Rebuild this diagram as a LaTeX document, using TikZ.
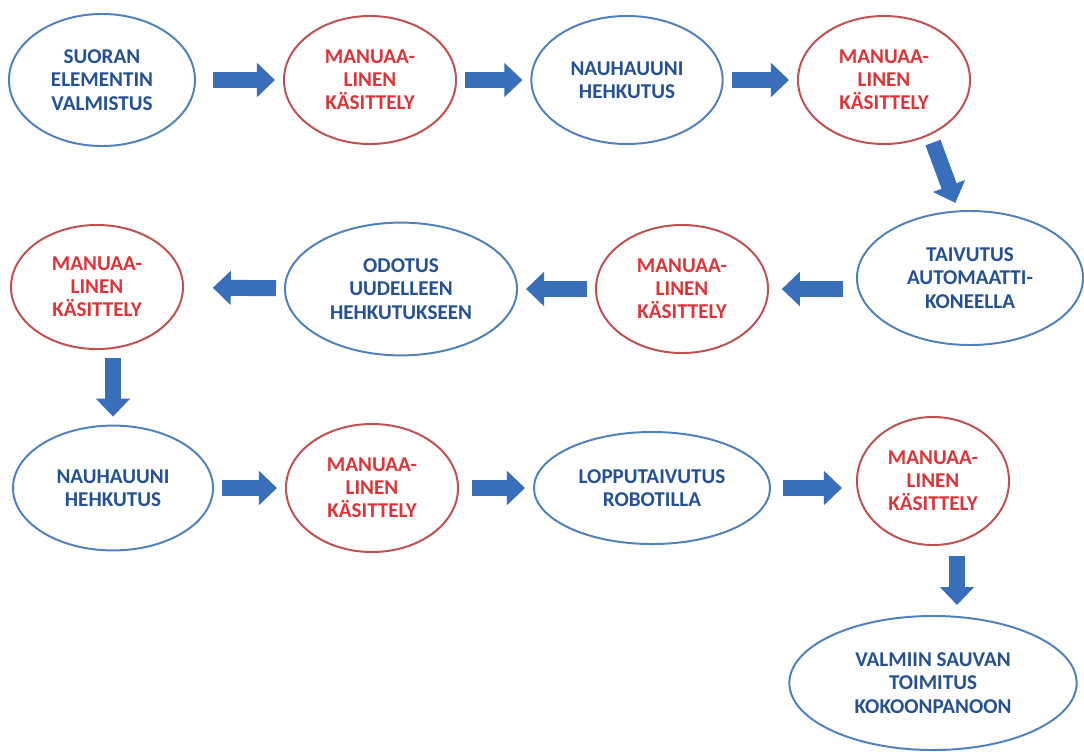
\documentclass[tikz,border=0pt]{standalone}
\usepackage{fontspec}
\setmainfont{Carlito}
\usetikzlibrary{shapes.geometric,
                    arrows.meta}
\definecolor{reunasininen}{RGB}{79,129,189}
\definecolor{reunapunainen}{RGB}{192,80,77}
\definecolor{tekstisininen}{RGB}{36,80,148}
\definecolor{tekstipunainen}{RGB}{222,52,56}
\definecolor{nuolisininen}{RGB}{56,110,186}
\tikzset{
vaihe/.style = {ellipse, draw=reunasininen, line width=1.4pt, text=tekstisininen,
    font=\bfseries\fontsize{15}{16.5}\selectfont, align=center, inner sep=0pt}
                }
\tikzset{
kasittely/.style = {vaihe, draw=reunapunainen, text=tekstipunainen,
    minimum width=4.3cm, minimum height=3.2cm}
         }
\tikzset{
nuoli/.style = {draw=nuolisininen, line width=0.4cm, -{Triangle[length=0.45cm,width=0.83cm]},
    shorten <=0.2cm, shorten >=0.2cm}
         }

\begin{document}
\begin{tikzpicture}[x=0.025cm,y=-0.025cm]
        \path[use as bounding box, fill=white] (0,0) rectangle (1084,751);

        % ensimmainen rivi
        \node[vaihe, minimum width=4.65cm, minimum height=3.3cm] (suora) at (102,80) {SUORAN\\ELEMENTIN\\VALMISTUS};
        \node[kasittely] (kas1) at (370,80) {MANUAA-\\LINEN\\KÄSITTELY};
        \node[vaihe, minimum width=4.78cm, minimum height=3.2cm] (nauha1) at (627,80) {NAUHAUUNI\\HEHKUTUS};
        \node[kasittely] (kas2) at (884,80) {MANUAA-\\LINEN\\KÄSITTELY};

        % toinen rivi
        \node[vaihe, minimum width=5.65cm, minimum height=3.35cm] (taivutus) at (970,278) {TAIVUTUS\\AUTOMAATTI-\\KONEELLA};
        \node[kasittely] (kas3) at (682,289) {MANUAA-\\LINEN\\KÄSITTELY};
        \node[vaihe, minimum width=5.8cm, minimum height=3.32cm] (odotus) at (401,289) {ODOTUS\\UUDELLEEN\\HEHKUTUKSEEN};
        \node[kasittely, minimum height=3.1cm] (kas4) at (97,287) {MANUAA-\\LINEN\\KÄSITTELY};

        % kolmas rivi
        \node[vaihe, minimum width=5cm, minimum height=3.12cm] (nauha2) at (113,488) {NAUHAUUNI\\HEHKUTUS};
        \node[kasittely] (kas5) at (372,488) {MANUAA-\\LINEN\\KÄSITTELY};
        \node[vaihe, minimum width=5.9cm, minimum height=2.8cm] (loppu) at (652,488) {LOPPUTAIVUTUS\\ROBOTILLA};
        \node[kasittely, minimum width=3.8cm] (kas6) at (933,481) {MANUAA-\\LINEN\\KÄSITTELY};
        \node[vaihe, minimum width=7.18cm, minimum height=3.35cm] (toimitus) at (933,683) {VALMIIN SAUVAN\\TOIMITUS\\KOKOONPANOON};

        % nuolet
        \draw[nuoli, shorten <=0.42cm] (suora) -- (kas1);
        \draw[nuoli] (kas1) -- (nauha1);
        \draw[nuoli] (nauha1) -- (kas2);
        \draw[nuoli] (kas2.-50) -- (taivutus.100);
        \draw[nuoli, shorten <=0.32cm, shorten >=0.32cm] (taivutus.west |- kas3) -- (kas3);
        \draw[nuoli] (kas3) -- (odotus);
        \draw[nuoli, shorten >=0.72cm] (odotus) -- (kas4);
        \draw[nuoli] (kas4.south -| nauha2.north) -- (nauha2.north);
        \draw[nuoli] (nauha2) -- (kas5);
        \draw[nuoli, shorten <=0.32cm] (kas5) -- (loppu);
        \draw[nuoli, shorten <=0.3cm, shorten >=0.35cm] (loppu) -- (kas6.west |- loppu);
        \draw[nuoli, shorten <=0.25cm, shorten >=0.25cm] ([xshift=0.6cm]kas6.south) -- ([xshift=0.6cm]toimitus.north);

    \end{tikzpicture}
\end{document}
